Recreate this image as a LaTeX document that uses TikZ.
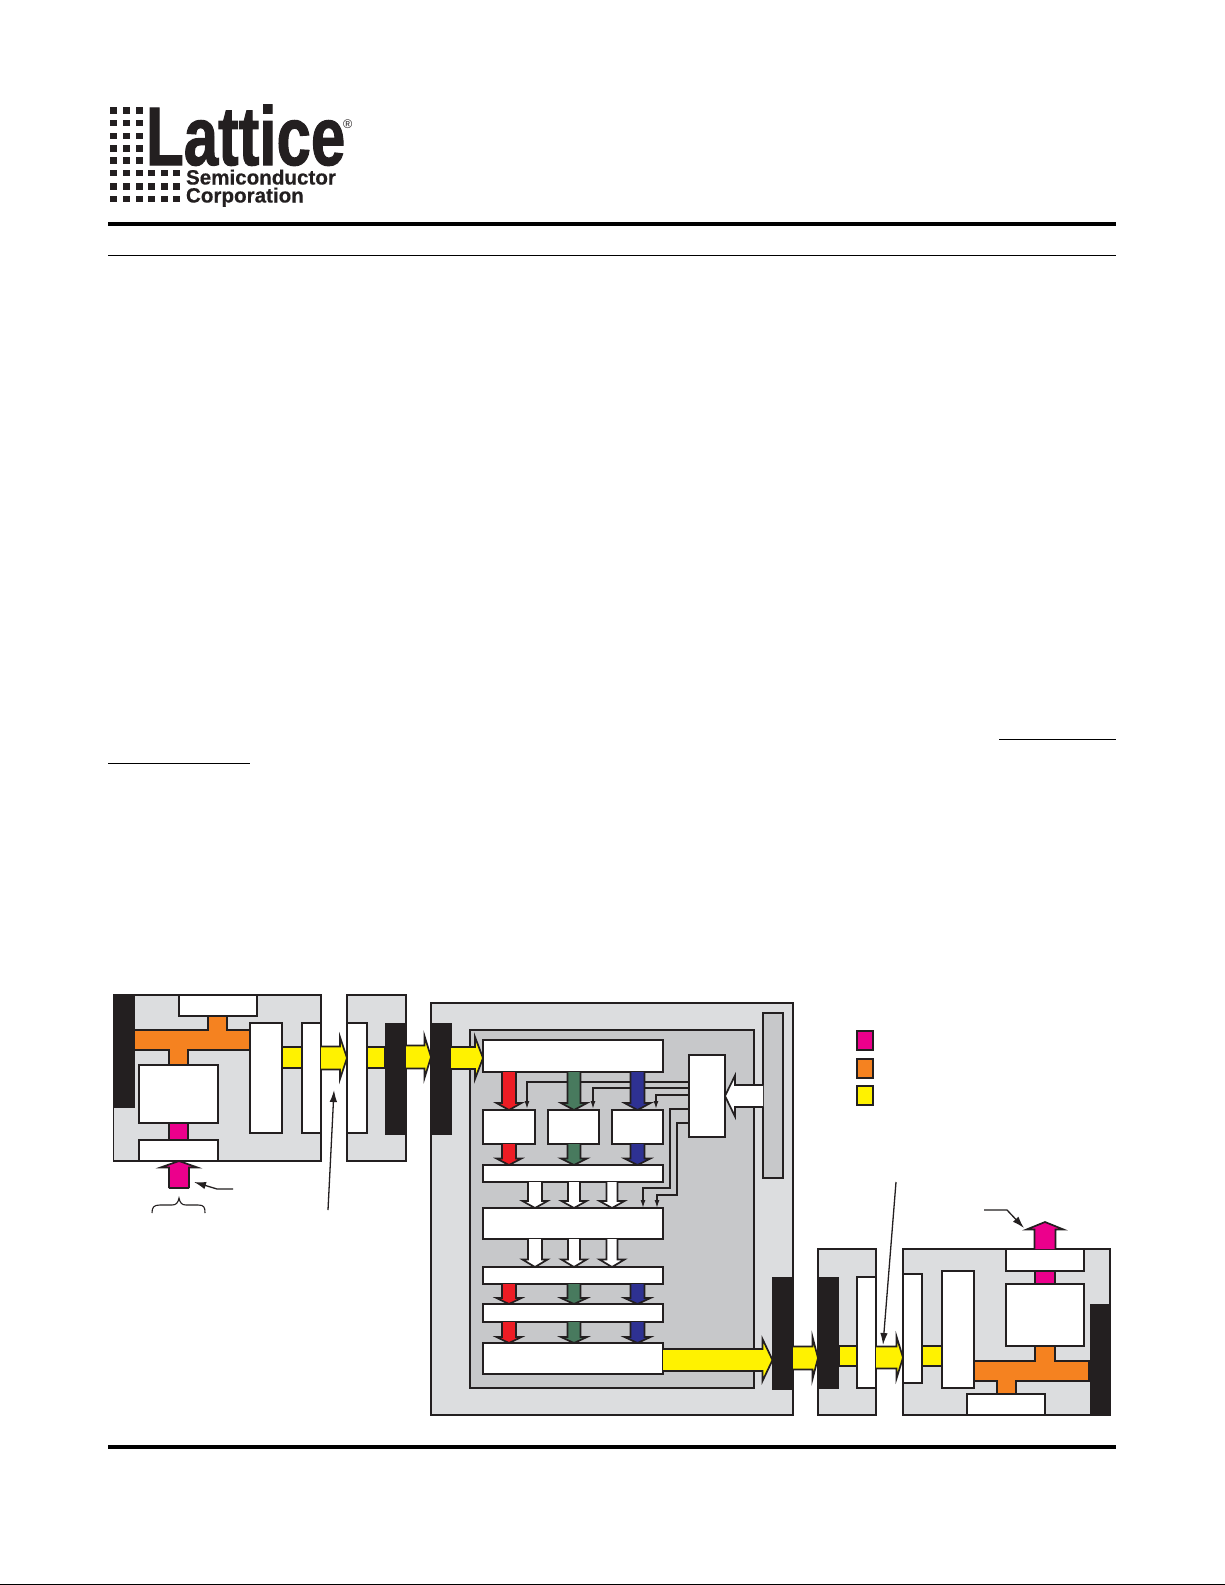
\documentclass[tikz,border=0pt]{standalone}
\usepackage{fontspec}
\usetikzlibrary{arrows.meta}
\setmainfont{Liberation Sans}
\newfontfamily\logoA[BoldFeatures={FakeBold=1.5}]{Liberation Sans}
\newfontfamily\logoB[BoldFeatures={FakeBold=0.4}]{Liberation Sans}
\definecolor{ink}{HTML}{231F20}
\definecolor{lgray}{HTML}{DCDDDF}
\definecolor{mgray}{HTML}{C7C8CA}
\definecolor{cmag}{HTML}{EC008C}
\definecolor{corg}{HTML}{F58220}
\definecolor{cyel}{HTML}{FFF200}
\definecolor{cred}{HTML}{ED1C24}
\definecolor{cgrn}{HTML}{487A5E}
\definecolor{cblu}{HTML}{2E3192}
\tikzset{
  boxbase/.style={draw=ink,line width=1.7pt,inner sep=0pt,outer sep=0pt,rectangle,line join=miter},
  wbox/.style={boxbase,fill=white},
  lblock/.style={boxbase,fill=lgray},
  mblock/.style={boxbase,fill=mgray},
  kbar/.style={boxbase,fill=ink,line width=0.8pt},
  ybar/.style={boxbase,fill=cyel},
  mbar/.style={boxbase,fill=cmag},
  obar/.style={boxbase,fill=corg},
  fatline/.style={draw=ink,line width=1.7pt,line join=miter,miter limit=10},
  ctl/.style={draw=ink,line width=1.4pt,-{Latex[length=8pt,width=5pt]}},
  callout/.style={draw=ink,line width=1.3pt,-{Latex[length=12pt,width=7.5pt]}},
  logosq/.style={fill=ink,inner sep=0pt,outer sep=0pt,minimum width=7pt,minimum height=6.5pt,rectangle},
  logotext/.style={inner sep=0pt,outer sep=0pt,anchor=base west,text=ink},
  rulethick/.style={draw=black,line width=4pt},
  rulethin/.style={draw=black,line width=1.2pt}
}
% name, style, x0, y0, x1, y1
\newcommand\bx[6]{\node[#2,minimum width={(#5-(#3))*1pt},minimum height={(#6-(#4))*1pt}] (#1) at ({(#3+#5)/2},{(#4+#6)/2}) {};}
% colour, cx, half shaft, half head, from, to, signed head length (pt, canvas up positive)
\newcommand\fatv[7]{%
  \coordinate (fs) at (#2,0 |- #5); \coordinate (ft) at (#2,0 |- #6);
  \fill[#1] ([xshift=-#3pt]fs) -- ([xshift=-#3pt,yshift=#7pt]ft) -- ([xshift=-#4pt,yshift=#7pt]ft) -- (ft) -- ([xshift=#4pt,yshift=#7pt]ft) -- ([xshift=#3pt,yshift=#7pt]ft) -- ([xshift=#3pt]fs) -- cycle;
  \draw[fatline] ([xshift=-#3pt]fs) -- ([xshift=-#3pt,yshift=#7pt]ft) -- ([xshift=-#4pt,yshift=#7pt]ft) -- (ft) -- ([xshift=#4pt,yshift=#7pt]ft) -- ([xshift=#3pt,yshift=#7pt]ft) -- ([xshift=#3pt]fs);}
% colour, cy, half shaft, half head, from, to, signed head length (canvas right positive)
\newcommand\fath[7]{%
  \coordinate (fs) at (#5 |- 0,#2); \coordinate (ft) at (#6 |- 0,#2);
  \fill[#1] ([yshift=#3pt]fs) -- ([yshift=#3pt,xshift=-#7pt]ft) -- ([yshift=#4pt,xshift=-#7pt]ft) -- (ft) -- ([yshift=-#4pt,xshift=-#7pt]ft) -- ([yshift=-#3pt,xshift=-#7pt]ft) -- ([yshift=-#3pt]fs) -- cycle;
  \draw[fatline] ([yshift=#3pt]fs) -- ([yshift=#3pt,xshift=-#7pt]ft) -- ([yshift=#4pt,xshift=-#7pt]ft) -- (ft) -- ([yshift=-#4pt,xshift=-#7pt]ft) -- ([yshift=-#3pt,xshift=-#7pt]ft) -- ([yshift=-#3pt]fs);}
\begin{document}
\begin{tikzpicture}[x=1pt,y=-1pt]
\useasboundingbox (0,0) rectangle (1225,1585);
\fill[white] (0,0) rectangle (1225,1585);
% ---- logo
\foreach \yy in {107.3,120,132.7,145.3,157.3}
  \foreach \xx in {110,123.3,135.7}
    \node[logosq] at (\xx+3.5,\yy+3.2) {};
\foreach \yy in {170,183.3,195.7}
  \foreach \xx in {110,123.3,135.7,148.3,160.7,173.3}
    \node[logosq] at (\xx+3.5,\yy+3.2) {};
\node[logotext] (logoL) at (146,165) {\scalebox{0.745}[1]{\fontsize{83}{83}\logoA\bfseries Lattice}};
\node[logotext] (logoR) at (343,128) {\fontsize{12.5}{12.5}\selectfont ®};
\node[logotext] (logoS) at (186,184.5) {\fontsize{20.6}{20}\logoB\bfseries Semiconductor};
\node[logotext] (logoC) at (186,202.5) {\fontsize{20.6}{20}\logoB\bfseries Corporation};
% ---- rules
\draw[rulethick] (108,224) -- (1116,224);
\draw[rulethin] (108,255.3) -- (1116,255.3);
\draw[rulethin] (999,739.3) -- (1116,739.3);
\draw[rulethin] (108,763.3) -- (250,763.3);
\draw[rulethick] (108,1447) -- (1116,1447);
\draw[draw=black,line width=1pt] (0,1584.5) -- (1225,1584.5);
% ---- left blocks
\bx{blA}{lblock}{113.5}{995}{321}{1161}
\bx{barA}{kbar}{113.5}{995}{134}{1107}
\draw[boxbase,fill=corg] (134,1030) -- (208,1030) -- (208,1016) -- (227,1016) -- (227,1030) -- (250,1030) -- (250,1050) -- (188,1050) -- (188,1065) -- (169,1065) -- (169,1050) -- (134,1050) -- cycle;
\bx{magA}{mbar}{169}{1123}{188}{1140}
\bx{topA}{wbox}{179}{995}{257}{1016}
\bx{bigA}{wbox}{139}{1065}{218}{1123}
\bx{botA}{wbox}{139}{1140}{218}{1161}
\bx{yelA}{ybar}{282}{1047}{302}{1068}
\bx{talA}{wbox}{250}{1023}{282}{1133}
\bx{talB}{wbox}{302}{1023}{321}{1133}
\bx{blB}{lblock}{347}{995}{406}{1161}
\bx{yelB}{ybar}{367}{1047}{385}{1068}
\bx{talC}{wbox}{347}{1023}{367}{1133}
\bx{barB}{kbar}{385.5}{1023}{406}{1134}
% ---- centre block
\bx{blC}{lblock}{431}{1003}{793}{1415}
\bx{inner}{mblock}{470}{1030}{754}{1388}
\bx{strip}{mblock}{763}{1013}{783}{1178}
\bx{barC}{kbar}{431}{1023}{451}{1134}
\bx{barD}{kbar}{772.5}{1277}{793}{1389}
\bx{stA}{wbox}{483}{1040}{663}{1072}
\bx{ctrl}{wbox}{689}{1055}{725}{1137}
\bx{r1}{wbox}{483}{1110}{535}{1144}
\bx{r2}{wbox}{548}{1110}{599}{1144}
\bx{r3}{wbox}{612}{1110}{663}{1144}
\bx{stB}{wbox}{483}{1165}{663}{1182}
\bx{stC}{wbox}{483}{1208}{663}{1239}
\bx{stD}{wbox}{483}{1267}{663}{1284}
\bx{stE}{wbox}{483}{1304}{663}{1322}
\bx{stF}{wbox}{483}{1343}{663}{1374}
% control lines
\draw[ctl] (ctrl.west |- 0,1082) -| (527,1109);
\draw[ctl] (ctrl.west |- 0,1088) -| (593,1109);
\draw[ctl] (ctrl.west |- 0,1095) -| (656,1109);
\draw[ctl] (ctrl.west |- 0,1109) -- (670,1109) -- (670,1188) -- (643,1188) -- (643 ,0 |- stC.north);
\draw[ctl] (ctrl.west |- 0,1123) -- (677,1123) -- (677,1195) -- (657,1195) -- (657,0 |- stC.north);
% coloured down arrows
\foreach \from/\to/\hl in {stA.south/r1.north/7,r1.south/stB.north/6.5,stD.south/stE.north/6,stE.south/stF.north/6} {
  \fatv{cred}{509}{7}{12.5}{\from}{\to}{\hl}
}
\foreach \from/\to/\hl in {stA.south/r2.north/7,r2.south/stB.north/6.5,stD.south/stE.north/6,stE.south/stF.north/6} {
  \fatv{cgrn}{574}{6.5}{13}{\from}{\to}{\hl}
}
\foreach \from/\to/\hl in {stA.south/r3.north/7,r3.south/stB.north/6.5,stD.south/stE.north/6,stE.south/stF.north/6} {
  \fatv{cblu}{637.5}{7}{13}{\from}{\to}{\hl}
}
\foreach \cx/\hs in {535/7,574/6,612/5.5} {
  \fatv{white}{\cx}{\hs}{12.5}{stB.south}{stC.north}{7}
  \fatv{white}{\cx}{\hs}{12.5}{stC.south}{stD.north}{7.5}
}
\fath{white}{1096}{11}{20.5}{strip.west}{ctrl.east}{-10}
\fath{cyel}{1360}{11}{21}{stF.east}{barD.west}{10}
% ---- yellow between left blocks
\fath{cyel}{1058}{11.5}{21}{talB.east}{talC.west}{7}
\fath{cyel}{1057}{11.5}{21}{barB.east}{barC.west}{6.5}
\fath{cyel}{1058}{11}{21}{barC.east}{stA.west}{8}
% ---- right blocks
\bx{blD}{lblock}{818}{1249}{876}{1415}
\bx{yelD}{ybar}{839}{1346}{857}{1366}
\bx{barE}{kbar}{818}{1277}{838.5}{1388}
\bx{talD}{wbox}{857}{1277}{876}{1388}
\bx{blE}{lblock}{903}{1249}{1110}{1415}
\bx{yelE}{ybar}{922}{1346}{942}{1366}
\draw[boxbase,fill=corg] (974,1361) -- (1035,1361) -- (1035,1346) -- (1055,1346) -- (1055,1361) -- (1089,1361) -- (1089,1381) -- (1016,1381) -- (1016,1394) -- (997,1394) -- (997,1381) -- (974,1381) -- cycle;
\bx{magE}{mbar}{1035}{1271}{1055}{1284}
\bx{talE}{wbox}{903}{1274}{922}{1383}
\bx{talF}{wbox}{942}{1271}{974}{1388}
\bx{topE}{wbox}{1006}{1249}{1084}{1271}
\bx{bigE}{wbox}{1006}{1284}{1084}{1346}
\bx{botE}{wbox}{967}{1394}{1045}{1415}
\bx{barF}{kbar}{1090}{1304}{1110}{1415}
\fath{cyel}{1358}{11.5}{21}{barD.east}{barE.west}{5.5}
\fath{cyel}{1357.5}{11}{21}{talD.east}{talE.west}{6.5}
% ---- magenta in / out
\coordinate (inbase) at (179,1188);
\coordinate (outtip) at (1045,1222);
\fatv{cmag}{179}{10}{18.5}{inbase}{botA.south}{-6.5}
\draw[fatline] (169,1188) -- (189,1188);
\fatv{cmag}{1045}{10.5}{18.5}{topE.north}{outtip}{-7.5}
% ---- call-outs
\coordinate (ptA) at (233,1189);
\coordinate (ptAk) at (217,1189);
\coordinate (ptAt) at (194,1182);
\draw[callout] (ptA) -- (ptAk) -- (ptAt);
\coordinate (ptB) at (984,1210);
\coordinate (ptBk) at (1007,1210);
\coordinate (ptBt) at (1024,1228);
\draw[callout] (ptB) -- (ptBk) -- (ptBt);
\coordinate (lgA) at (328,1210);
\coordinate (lgAt) at (334,1090);
\draw[callout] (lgA) -- (lgAt);
\coordinate (lgB) at (896,1182);
\coordinate (lgBt) at (883,1345);
\draw[callout] (lgB) -- (lgBt);
\draw[draw=ink,line width=1.1pt] (152,1213) .. controls (152,1207) and (154,1205) .. (160,1205) -- (172,1205) .. controls (176,1205) and (178,1203) .. (179,1198) .. controls (180,1203) and (182,1205) .. (186,1205) -- (198,1205) .. controls (204,1205) and (205,1207) .. (205,1213);
% ---- legend
\bx{legM}{mbar}{857}{1031}{873}{1050}
\bx{legO}{obar}{857}{1059}{873}{1078}
\bx{legY}{ybar}{857}{1086}{873}{1105}
\end{tikzpicture}
\end{document}
